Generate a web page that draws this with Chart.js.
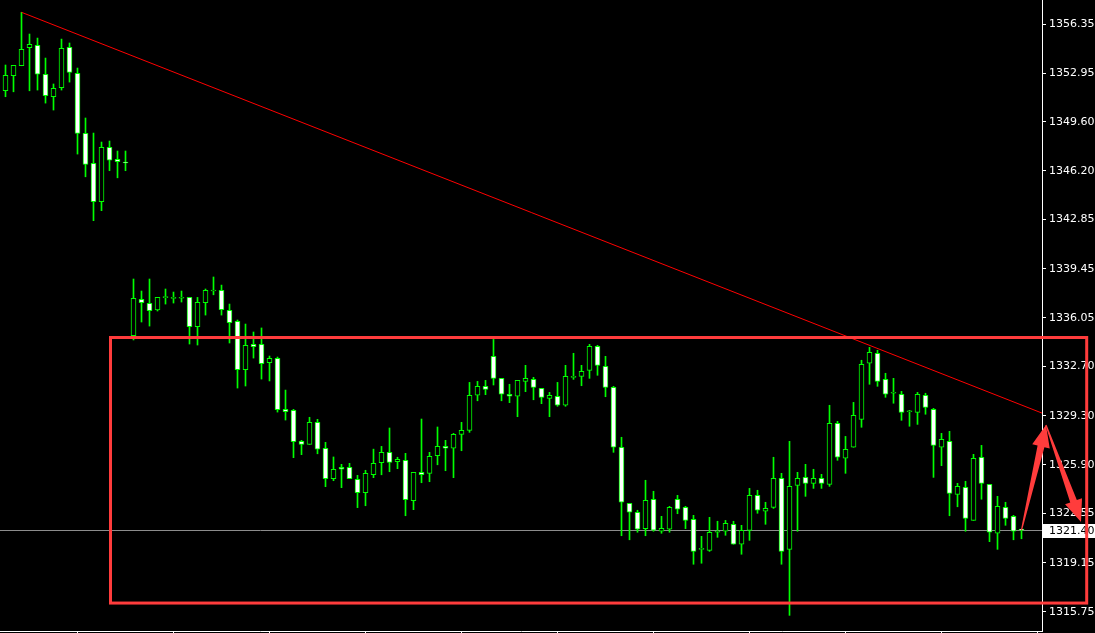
<!DOCTYPE html>
<html>
<head>
<meta charset="utf-8">
<script src="https://cdn.jsdelivr.net/npm/chart.js@4.4.1/dist/chart.umd.min.js"></script>
<style>
  html, body { margin: 0; padding: 0; background: #000; }
  #wrap { width: 1095px; height: 633px; }
</style>
</head>
<body>
<div id="wrap"><canvas id="chart"></canvas></div>
<script>
// candle values, one entry per bar
const opens = [
  1351.74, 1352.78, 1353.47, 1354.71, 1354.88, 1352.88, 1351.33, 1351.95, 1354.74, 1352.94,
  1348.80, 1346.73, 1344.08, 1347.83, 1347.01, 1346.80, 1334.82, 1337.34, 1337.06, 1336.60,
  1337.45, 1337.40, 1337.41, 1337.47, 1335.44, 1337.10, 1337.91, 1337.96, 1336.58, 1335.82,
  1332.48, 1334.23, 1334.23, 1332.96, 1333.26, 1329.74, 1329.67, 1327.53, 1327.32, 1328.84,
  1327.05, 1324.95, 1325.74, 1325.74, 1324.91, 1323.98, 1325.22, 1326.05, 1326.77, 1326.12,
  1326.22, 1323.43, 1325.39, 1325.32, 1326.54, 1327.18, 1327.05, 1328.01, 1328.29, 1330.71,
  1331.33, 1333.40, 1331.88, 1330.78, 1330.64, 1331.67, 1331.81, 1331.19, 1330.50, 1330.64,
  1330.02, 1331.95, 1332.02, 1332.43, 1334.09, 1332.71, 1331.26, 1327.12, 1323.25, 1322.63,
  1321.50, 1323.53, 1321.32, 1321.46, 1323.53, 1322.97, 1322.14, 1320.07, 1320.00, 1321.25,
  1321.32, 1321.80, 1320.42, 1321.38, 1323.80, 1322.70, 1322.97, 1324.98, 1320.07, 1324.49,
  1325.05, 1324.63, 1324.98, 1324.56, 1328.77, 1326.36, 1327.12, 1329.05, 1332.92, 1333.61,
  1331.81, 1330.85, 1330.78, 1329.57, 1329.53, 1330.71, 1329.74, 1327.12, 1327.53, 1323.87,
  1324.35, 1322.07, 1326.43, 1324.56, 1321.18, 1322.97, 1322.35, 1321.46
];
const highs = [
  1353.52, 1353.50, 1357.16, 1355.66, 1355.38, 1354.00, 1352.21, 1355.31, 1355.04, 1353.31,
  1349.86, 1348.82, 1348.20, 1348.27, 1347.58, 1347.58, 1338.74, 1337.91, 1338.74, 1337.47,
  1338.05, 1337.84, 1337.91, 1337.47, 1337.47, 1338.05, 1338.88, 1338.32, 1337.01, 1335.91,
  1335.63, 1335.08, 1335.36, 1333.42, 1333.35, 1331.07, 1329.74, 1327.60, 1329.19, 1329.05,
  1327.46, 1326.45, 1325.94, 1326.01, 1325.18, 1325.53, 1326.99, 1327.18, 1328.45, 1326.43,
  1326.70, 1325.39, 1329.07, 1326.77, 1328.52, 1327.60, 1328.08, 1328.84, 1331.60, 1331.67,
  1331.74, 1334.57, 1331.88, 1331.47, 1331.74, 1332.78, 1331.95, 1331.19, 1330.91, 1331.60,
  1332.78, 1333.61, 1332.78, 1334.23, 1334.16, 1333.40, 1331.33, 1327.81, 1323.25, 1322.77,
  1324.84, 1324.08, 1322.35, 1323.04, 1323.80, 1323.04, 1322.42, 1320.97, 1322.28, 1322.01,
  1322.07, 1322.01, 1321.73, 1324.28, 1324.15, 1323.32, 1326.43, 1325.32, 1327.53, 1325.39,
  1325.94, 1325.60, 1325.25, 1330.02, 1328.91, 1327.87, 1330.22, 1333.13, 1334.02, 1333.82,
  1332.23, 1331.88, 1330.98, 1329.67, 1330.91, 1330.85, 1329.81, 1328.08, 1328.22, 1324.63,
  1324.77, 1326.63, 1327.25, 1324.56, 1323.73, 1323.32, 1322.42, 1321.46
];
const lows = [
  1351.33, 1351.67, 1353.47, 1351.74, 1351.79, 1350.89, 1350.41, 1351.79, 1352.34, 1347.37,
  1345.80, 1342.77, 1343.46, 1346.22, 1345.73, 1346.22, 1334.53, 1335.77, 1335.49, 1336.53,
  1337.01, 1337.08, 1337.15, 1334.25, 1334.18, 1336.25, 1337.65, 1336.25, 1334.32, 1331.21,
  1331.35, 1333.28, 1331.83, 1331.70, 1329.55, 1329.00, 1326.40, 1326.61, 1327.32, 1326.67,
  1324.40, 1324.81, 1324.33, 1324.95, 1322.95, 1323.08, 1325.02, 1325.22, 1325.43, 1325.64,
  1322.39, 1322.81, 1324.67, 1324.74, 1325.91, 1325.50, 1325.02, 1326.88, 1328.15, 1330.33,
  1330.75, 1331.42, 1330.33, 1330.20, 1329.23, 1330.96, 1330.40, 1330.13, 1329.23, 1329.95,
  1329.95, 1331.81, 1331.37, 1331.88, 1332.09, 1330.61, 1326.77, 1321.01, 1320.73, 1321.25,
  1321.01, 1321.32, 1321.18, 1321.25, 1322.53, 1321.50, 1319.04, 1319.11, 1319.93, 1320.90,
  1321.04, 1320.42, 1319.73, 1320.69, 1322.56, 1321.80, 1322.90, 1319.04, 1315.51, 1321.32,
  1323.73, 1324.28, 1324.28, 1324.42, 1326.22, 1325.32, 1327.12, 1328.50, 1331.47, 1331.33,
  1330.57, 1330.16, 1328.98, 1328.57, 1328.70, 1329.40, 1325.04, 1325.85, 1322.39, 1323.01,
  1321.32, 1322.07, 1323.53, 1320.60, 1320.07, 1321.73, 1320.73, 1320.80
];
const closes = [
  1352.81, 1353.50, 1354.60, 1354.95, 1352.88, 1351.40, 1351.91, 1354.67, 1353.01, 1348.80,
  1346.66, 1344.08, 1347.83, 1346.94, 1346.84, 1346.75, 1337.41, 1337.10, 1336.55, 1337.47,
  1337.45, 1337.43, 1337.41, 1335.44, 1337.13, 1337.96, 1337.91, 1336.62, 1335.72, 1332.48,
  1334.16, 1334.06, 1332.89, 1333.26, 1329.71, 1329.57, 1327.50, 1327.32, 1328.84, 1326.98,
  1324.95, 1325.60, 1325.60, 1324.95, 1323.98, 1325.32, 1326.01, 1326.77, 1326.08, 1326.29,
  1323.50, 1325.39, 1325.22, 1326.50, 1327.18, 1327.05, 1328.01, 1328.29, 1330.71, 1331.33,
  1331.12, 1331.88, 1330.78, 1330.64, 1331.74, 1331.88, 1331.26, 1330.57, 1330.71, 1330.02,
  1332.02, 1332.00, 1332.36, 1334.09, 1332.78, 1331.26, 1327.12, 1323.32, 1322.63, 1321.46,
  1323.46, 1321.40, 1321.52, 1322.97, 1322.84, 1322.07, 1319.93, 1320.07, 1321.25, 1321.30,
  1321.87, 1320.42, 1321.38, 1323.80, 1322.77, 1322.90, 1324.98, 1319.93, 1324.42, 1324.98,
  1324.63, 1324.98, 1324.63, 1328.77, 1326.43, 1326.98, 1329.33, 1332.85, 1333.68, 1331.67,
  1330.78, 1330.85, 1329.53, 1329.62, 1330.78, 1329.88, 1327.25, 1327.67, 1323.94, 1324.42,
  1322.21, 1326.36, 1324.63, 1321.25, 1323.04, 1322.21, 1321.32, 1321.40
];

const yTicks = [1356.35, 1352.95, 1349.60, 1346.20, 1342.85, 1339.45, 1336.05,
                1332.70, 1329.30, 1325.90, 1322.55, 1319.15, 1315.75];
const xTickIdx = [9, 21, 33, 45, 57, 69, 81, 93, 105, 117, 129];

// drawn objects, in (bar index, price)
const trendX = [2, 129.5625];
const trendY = [1357.16, 1329.48];
const boxX = [13.125, 135.15];
const boxY = [1334.70, 1316.36];
const arrowX = [127, 130.06, 134.44];
const arrowY = [1321.40, 1328.66, 1321.96];

const GREEN = '#00ff00';
const RED = '#ff3c3c';

const wicks = highs.map((h, i) => ({ x: i, y: [lows[i], h] }));
const bodies = opens.map((o, i) => ({ x: i, y: [o, closes[i]] }));
const bodyFill = opens.map((o, i) => closes[i] < o ? '#ffffff' : '#000000');

function drawArrow(ctx, x0, y0, x1, y1) {
    const len = Math.hypot(x1 - x0, y1 - y0);
    const dx = (x1 - x0) / len, dy = (y1 - y0) / len;
    const nx = -dy, ny = dx;
    const headLen = 22, headW = 9, shaftW = 3.5, tailW = 0.6;
    const bx = x1 - dx * headLen, by = y1 - dy * headLen;
    ctx.beginPath();
    ctx.moveTo(x0 + nx * tailW, y0 + ny * tailW);
    ctx.lineTo(bx + nx * shaftW, by + ny * shaftW);
    ctx.lineTo(bx + nx * headW, by + ny * headW);
    ctx.lineTo(x1, y1);
    ctx.lineTo(bx - nx * headW, by - ny * headW);
    ctx.lineTo(bx - nx * shaftW, by - ny * shaftW);
    ctx.lineTo(x0 - nx * tailW, y0 - ny * tailW);
    ctx.closePath();
    ctx.fill();
}

const overlay = {
    id: 'overlay',
    beforeDraw(chart) {
        const ctx = chart.ctx;
        ctx.save();
        ctx.fillStyle = '#000';
        ctx.fillRect(0, 0, chart.width, chart.height);
        ctx.restore();
    },
    beforeDatasetsDraw(chart) {
        // last price line
        const { ctx, chartArea, scales: { y } } = chart;
        const py = Math.round(y.getPixelForValue(closes[closes.length - 1])) + 0.5;
        ctx.save();
        ctx.strokeStyle = '#8c8c8c';
        ctx.lineWidth = 1;
        ctx.beginPath();
        ctx.moveTo(chartArea.left, py);
        ctx.lineTo(chartArea.right, py);
        ctx.stroke();
        ctx.restore();
    },
    afterDraw(chart) {
        const { ctx, chartArea, scales: { x, y } } = chart;
        const last = closes[closes.length - 1];
        const py = Math.round(y.getPixelForValue(last));
        ctx.save();
        ctx.fillStyle = '#ffffff';
        ctx.fillRect(chartArea.right + 1, py - 6, chart.width - chartArea.right - 1, 14);
        ctx.fillStyle = '#000000';
        ctx.font = '11px "DejaVu Sans"';
        ctx.textBaseline = 'middle';
        ctx.fillText(last.toFixed(2), chartArea.right + 7, py + 1);

        // red box
        ctx.strokeStyle = RED;
        ctx.lineWidth = 3;
        const bx0 = x.getPixelForValue(boxX[0]), bx1 = x.getPixelForValue(boxX[1]);
        const by0 = y.getPixelForValue(boxY[0]), by1 = y.getPixelForValue(boxY[1]);
        ctx.strokeRect(bx0, by0, bx1 - bx0, by1 - by0);

        // arrows
        ctx.fillStyle = RED;
        const px = arrowX.map(v => x.getPixelForValue(v));
        const pyy = arrowY.map(v => y.getPixelForValue(v));
        drawArrow(ctx, px[0], pyy[0], px[1], pyy[1]);
        drawArrow(ctx, px[1], pyy[1], px[2], pyy[2]);
        ctx.restore();
    }
};

new Chart(document.getElementById('chart'), {
    type: 'bar',
    data: {
        datasets: [
            {
                type: 'line',
                data: trendX.map((v, i) => ({ x: v, y: trendY[i] })),
                borderColor: '#ff0000',
                borderWidth: 1,
                pointRadius: 0,
                order: 1
            },
            {
                data: bodies,
                backgroundColor: bodyFill,
                borderColor: GREEN,
                borderWidth: 1,
                borderSkipped: false,
                barThickness: 5,
                minBarLength: 1,
                grouped: false,
                order: 2
            },
            {
                data: wicks,
                backgroundColor: GREEN,
                borderWidth: 0,
                barThickness: 1,
                grouped: false,
                order: 3
            }
        ]
    },
    options: {
        responsive: true,
        maintainAspectRatio: false,
        animation: false,
        layout: { padding: 0 },
        plugins: { legend: { display: false }, tooltip: { enabled: false } },
        scales: {
            x: {
                type: 'linear',
                offset: false,
                min: -0.6875,
                max: 129.5625,
                grid: { drawOnChartArea: false, color: '#ffffff', tickLength: 3, offset: false },
                border: { color: '#ffffff' },
                ticks: { display: false },
                afterBuildTicks: s => { s.ticks = xTickIdx.map(v => ({ value: v })); },
                afterFit: s => { s.height = 2; s.paddingLeft = 0; s.paddingRight = 0; }
            },
            y: {
                position: 'right',
                min: 1314.43,
                max: 1358.01,
                grid: { drawOnChartArea: false, color: '#ffffff', tickLength: 4 },
                border: { color: '#ffffff' },
                ticks: {
                    color: '#ffffff',
                    padding: 3,
                    font: { family: 'DejaVu Sans', size: 11 },
                    callback: v => Number(v).toFixed(2)
                },
                afterBuildTicks: s => { s.ticks = yTicks.map(v => ({ value: v })); },
                afterFit: s => { s.width = 53; s.paddingTop = 0; s.paddingBottom = 0; }
            }
        }
    },
    plugins: [overlay]
});
</script>
</body>
</html>
